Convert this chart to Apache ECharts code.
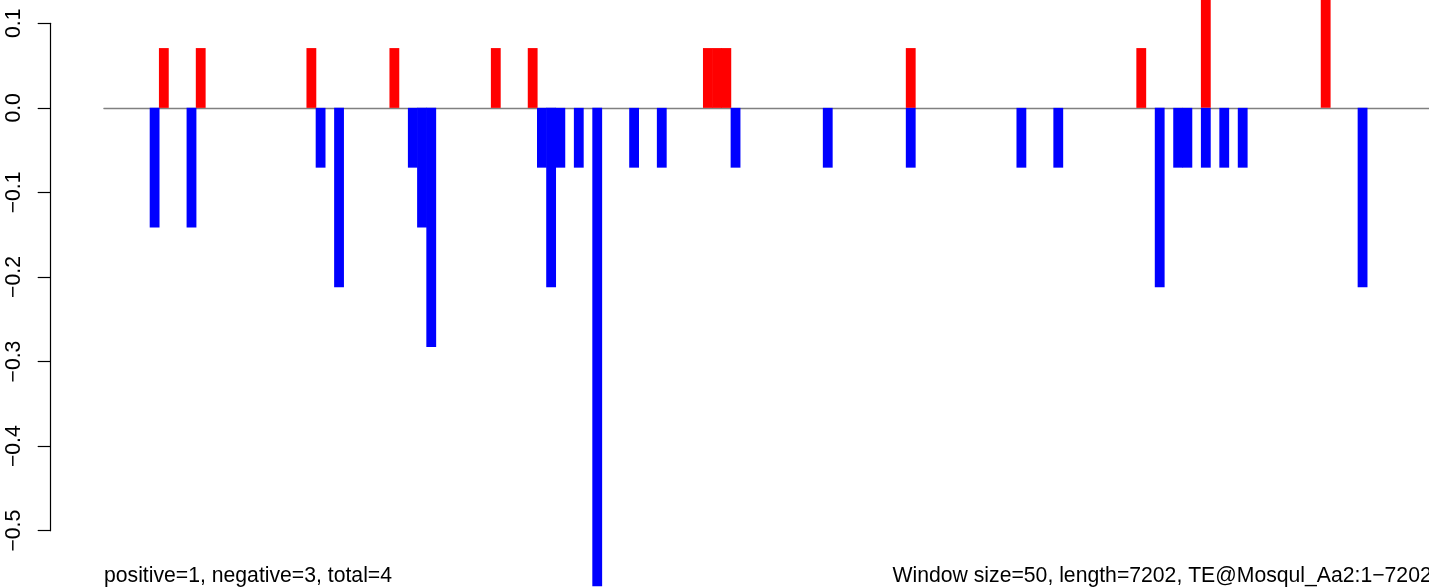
<!DOCTYPE html>
<html>
<head>
<meta charset="utf-8">
<script src="https://cdn.jsdelivr.net/npm/echarts@6/dist/echarts.min.js"></script>
<style>
html,body{margin:0;padding:0;background:#fff;}
#chart{width:1429px;height:588px;}
</style>
</head>
<body>
<div id="chart"></div>
<script>
// ---- data (window numbers are 1-based, window size 50, length 7202 -> 144 windows) ----
const windowCount = 144;
const positiveWindows = [7, 11, 23, 32, 43, 47, 66, 67, 68, 88, 113, 120, 133];
const positiveValues  = [0.0707, 0.0707, 0.0707, 0.0707, 0.0707, 0.0707, 0.0707, 0.0707, 0.0707, 0.0707, 0.0707, 0.1414, 0.1414];
const negativeWindows = [6, 10, 24, 26, 34, 35, 36, 48, 49, 50, 52, 54, 58, 61, 69, 79, 88, 100, 104, 115, 117, 118, 120, 122, 124, 137];
const negativeValues  = [-0.1414, -0.1414, -0.0707, -0.2121, -0.0707, -0.1414, -0.2828, -0.0707, -0.2121, -0.0707, -0.0707, -0.5657, -0.0707, -0.0707, -0.0707, -0.0707, -0.0707, -0.0707, -0.0707, -0.2121, -0.0707, -0.0707, -0.0707, -0.0707, -0.0707, -0.2121];
const yTicks = [-0.5, -0.4, -0.3, -0.2, -0.1, 0.0, 0.1];
const leftNote = 'positive=1, negative=3, total=4';
const rightNote = 'Window size=50, length=7202, TE@Mosqul_Aa2:1\u22127202';

// ---- build series arrays ----
const categories = [];
for (let i = 1; i <= windowCount; i++) categories.push(String(i));
const posData = new Array(windowCount).fill(null);
const negData = new Array(windowCount).fill(null);
positiveWindows.forEach((w, i) => { posData[w - 1] = positiveValues[i]; });
negativeWindows.forEach((w, i) => { negData[w - 1] = negativeValues[i]; });

const FONT = '"Liberation Sans", Arial, Helvetica, sans-serif';
const FS = 21.2;
const gridLeft = 103.9, gridTop = 23.3, gridHeight = 507.4, pitch = 9.221;
const gridWidth = pitch * windowCount;

const chart = echarts.init(document.getElementById('chart'), null, {renderer: 'canvas'});
chart.setOption({
  animation: false,
  backgroundColor: '#ffffff',
  grid: {left: gridLeft, top: gridTop, width: gridWidth, height: gridHeight, containLabel: false, outerBoundsMode: 'none'},
  xAxis: {
    type: 'category',
    data: categories,
    boundaryGap: true,
    axisLine: {show: true, onZero: true, lineStyle: {color: '#808080', width: 1.3}},
    axisTick: {show: false},
    axisLabel: {show: false},
    splitLine: {show: false}
  },
  yAxis: {
    type: 'value',
    min: yTicks[0],
    max: yTicks[yTicks.length - 1],
    interval: 0.1,
    position: 'left',
    offset: gridLeft - 50.7,
    axisLine: {show: true, lineStyle: {color: '#000000', width: 1.2}},
    axisTick: {show: true, inside: false, length: 13, lineStyle: {color: '#000000', width: 1.2}},
    splitLine: {show: false},
    axisLabel: {
      rotate: 90,
      margin: 26,
      color: '#000000',
      fontFamily: FONT,
      fontSize: FS,
      formatter: function (v) {
        const r = Math.round(v * 10) / 10;
        return (r < 0 ? '\u2212' : '') + Math.abs(r).toFixed(1);
      }
    }
  },
  series: [
    {
      type: 'bar', name: 'positive', data: posData,
      barWidth: pitch + 0.6, barGap: '-100%', clip: false,
      itemStyle: {color: '#ff0000'}, z: 3
    },
    {
      type: 'bar', name: 'negative', data: negData,
      barWidth: pitch + 0.6, barGap: '-100%', clip: false,
      itemStyle: {color: '#0000ff'}, z: 3
    }
  ],
  graphic: [
    {type: 'text', left: 104, top: 566, z: 10,
     style: {text: leftNote, font: FS + 'px ' + FONT, fill: '#000000'}},
    {type: 'text', right: -2.7, top: 566, z: 10,
     style: {text: rightNote, font: FS + 'px ' + FONT, fill: '#000000'}}
  ]
});
</script>
</body>
</html>
